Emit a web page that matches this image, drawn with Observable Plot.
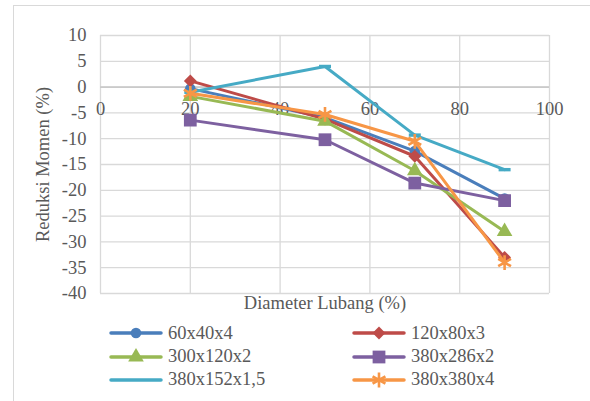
<!DOCTYPE html>
<html><head><meta charset="utf-8">
<script src="https://cdn.jsdelivr.net/npm/d3@7"></script>
<script src="https://cdn.jsdelivr.net/npm/@observablehq/plot@0.6"></script>
<style>
body{margin:0;background:#fff;}
#wrap{position:relative;width:590px;height:401px;overflow:hidden;font-family:"Liberation Serif","Times New Roman",serif;color:#595959;}
#frame{position:absolute;left:13px;top:5px;width:620px;height:440px;border:1.5px solid #d9d9d9;box-sizing:border-box}
#chart{position:absolute;left:0;top:0}
.li{position:absolute;display:flex;align-items:center;font-size:18.5px;height:22px;transform:translateY(-50%);white-space:nowrap}
.li svg{margin-right:4px}
</style></head>
<body>
<div id="wrap"><div id="frame"></div><div id="chart"></div><div id="legend"></div></div>
<script>
// ---- data ----
const diameters = [20, 50, 70, 90];
const seriesNames = ["60x40x4", "120x80x3", "300x120x2", "380x286x2", "380x152x1,5", "380x380x4"];
const s60x40x4   = [-0.3, -5.9, -12.4, -21.6];
const s120x80x3  = [1.2, -6.2, -13.4, -33.0];
const s300x120x2 = [-1.8, -6.6, -16.2, -28.0];
const s380x286x2 = [-6.4, -10.2, -18.6, -22.0];
const s380x152x15 = [-1.0, 4.0, -9.3, -16.0];
const s380x380x4 = [-1.2, -5.3, -10.5, -34.0];
const xTicks = [0, 20, 40, 60, 80, 100];
const yTicks = [10, 5, 0, -5, -10, -15, -20, -25, -30, -35, -40];
const xTitle = "Diameter Lubang (%)";
const yTitle = "Reduksi Momen (%)";

// ---- styles ----
const colors = ["#4A7EBB", "#BE4B48", "#98B954", "#7D60A0", "#46AAC5", "#F79646"];
const dash = {draw(ctx) { const w = 6, h = 1.7; ctx.moveTo(-w, -h); ctx.lineTo(w, -h); ctx.lineTo(w, h); ctx.lineTo(-w, h); ctx.closePath(); }};
const symbols = ["circle", "diamond2", "triangle", "square", dash, "asterisk"];
const symR = [5.3, 5.8, 5.8, 7.2, 5, 7];

const allValues = [s60x40x4, s120x80x3, s300x120x2, s380x286x2, s380x152x15, s380x380x4];
const rows = [];
seriesNames.forEach((s, i) => diameters.forEach((d, j) => rows.push({series: s, x: d, y: allValues[i][j]})));

const seriesMarks = [];
seriesNames.forEach((s, i) => {
  const data = rows.filter(r => r.series === s);
  seriesMarks.push(Plot.line(data, {x: "x", y: "y", stroke: colors[i], strokeWidth: 3, strokeLinecap: "round", strokeLinejoin: "round"}));
  const isStroke = symbols[i] === "asterisk";
  seriesMarks.push(Plot.dot(data, {x: "x", y: "y", symbol: symbols[i], r: symR[i],
    fill: isStroke ? "none" : colors[i], stroke: isStroke ? colors[i] : "none", strokeWidth: isStroke ? 2.6 : 0}));
});

const grid = {stroke: "#d9d9d9", strokeOpacity: 1, strokeWidth: 1.3};
const chart = Plot.plot({
  width: 590, height: 320,
  marginLeft: 100, marginRight: 41, marginTop: 35, marginBottom: 27,
  x: {domain: [0, 100], axis: null},
  y: {domain: [-40, 10], axis: null},
  style: {fontFamily: '"Liberation Serif","Times New Roman",serif', fontSize: "18.5px", color: "#595959", background: "transparent", overflow: "visible"},
  marks: [
    Plot.gridX(xTicks, grid),
    Plot.gridY(yTicks, grid),
    Plot.ruleY([0], {stroke: "#cacaca", strokeWidth: 1.7}),
    Plot.text(yTicks, {y: d => d, frameAnchor: "left", dx: -14, textAnchor: "end", text: d => String(d), fill: "#595959"}),
    Plot.text(xTicks, {x: d => d, y: 0, dy: 22, textAnchor: "middle", text: d => String(d), fill: "#595959"}),
    Plot.text([yTitle], {frameAnchor: "left", dx: -57, rotate: -90, textAnchor: "middle", text: d => d, fill: "#595959"}),
    Plot.text([xTitle], {frameAnchor: "bottom", dy: 15, textAnchor: "middle", text: d => d, fill: "#595959"}),
    ...seriesMarks
  ]
});
document.getElementById("chart").appendChild(chart);

// ---- legend (HTML, below the SVG) ----
const legend = document.getElementById("legend");
const colX = [108, 351];
const rowY = [333, 356.5, 379.5];
seriesNames.forEach((s, i) => {
  const item = document.createElement("div");
  item.className = "li";
  item.style.left = colX[i % 2] + "px";
  item.style.top = rowY[Math.floor(i / 2)] + "px";
  const svg = d3.create("svg").attr("width", 56).attr("height", 18);
  svg.append("line").attr("x1", 3).attr("x2", 53).attr("y1", 9).attr("y2", 9)
    .attr("stroke", colors[i]).attr("stroke-width", 3.5).attr("stroke-linecap", "round");
  if (i !== 4) {
    const type = [d3.symbolCircle, d3.symbolDiamond2, d3.symbolTriangle, d3.symbolSquare, null, d3.symbolAsterisk][i];
    const r = symR[i];
    const p = svg.append("path").attr("transform", "translate(28,9)").attr("d", d3.symbol(type, r * r * Math.PI)());
    if (i === 5) p.attr("fill", "none").attr("stroke", colors[i]).attr("stroke-width", 2.6);
    else p.attr("fill", colors[i]);
  }
  item.appendChild(svg.node());
  const t = document.createElement("span");
  t.textContent = s;
  item.appendChild(t);
  legend.appendChild(item);
});
</script>
</body></html>
